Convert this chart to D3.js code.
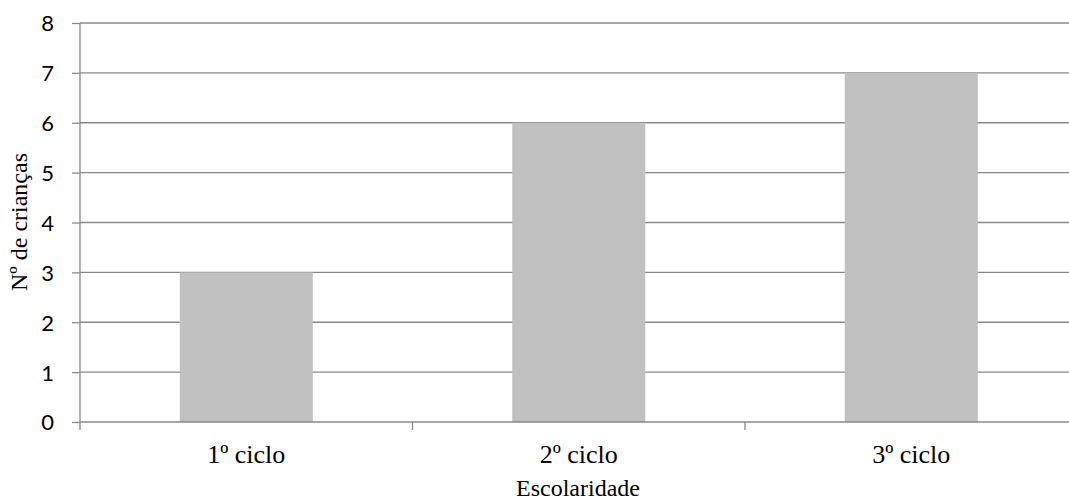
<!DOCTYPE html>
<html><head><meta charset="utf-8">
<script src="https://cdn.jsdelivr.net/npm/d3@7"></script>
<style>body{margin:0;background:#fff}svg{display:block}</style>
</head><body>
<svg id="c" width="1069" height="501"></svg>
<script>
const categories = ["1º ciclo", "2º ciclo", "3º ciclo"];
const values = [3, 6, 7];
const yTicks = [0, 1, 2, 3, 4, 5, 6, 7, 8];
const xTitle = "Escolaridade";
const yTitle = "Nº de crianças";

const svg = d3.select("#c");
const pLeft = 80, pRight = 1077.5, pTop = 23, pBottom = 422;
const x = d3.scaleBand().domain(categories).range([pLeft, pRight]).paddingInner(0.6).paddingOuter(0.3);
const xb = d3.scaleBand().domain(categories).range([pLeft, pRight]);
const y = d3.scaleLinear().domain([0, 8]).range([pBottom, pTop]);
const grid = "#888888";

// gridlines
svg.append("g").selectAll("line").data(yTicks.filter(d => d > 0)).join("line")
  .attr("x1", pLeft).attr("x2", pRight).attr("y1", d => y(d)).attr("y2", d => y(d))
  .attr("stroke", grid).attr("stroke-width", 1.3);

// bars
svg.append("g").selectAll("rect").data(values).join("rect")
  .attr("x", (d, i) => x(categories[i])).attr("width", x.bandwidth())
  .attr("y", d => y(d)).attr("height", d => y(0) - y(d))
  .attr("fill", "#c0c0c0");

// y axis
const ya = svg.append("g").attr("transform", `translate(${pLeft},0)`)
  .call(d3.axisLeft(y).tickValues(yTicks).tickFormat(d3.format("d")).tickSize(8).tickPadding(18));
ya.select(".domain").attr("stroke", grid).attr("stroke-width", 1.3).attr("d", `M0,${pTop}V${pBottom}`);
ya.selectAll(".tick line").attr("stroke", grid).attr("stroke-width", 1.3);
ya.selectAll(".tick text").attr("font-family", "Lato, 'Open Sans', sans-serif").attr("font-size", 22).attr("fill", "#000").attr("dy", "0.36em");

// x axis
const xa = svg.append("g").attr("transform", `translate(0,${pBottom})`)
  .call(d3.axisBottom(xb).tickSize(0));
xa.select(".domain").attr("stroke", grid).attr("stroke-width", 1.3).attr("d", `M${pLeft},0H${pRight}`);
xa.selectAll(".tick text").attr("font-family", "'Liberation Serif', 'Times New Roman', serif").attr("font-size", 26).attr("fill", "#000")
  .attr("y", 41).attr("dy", 0);
const bounds = [pLeft].concat(categories.map(c => xb(c) + xb.bandwidth()));
svg.append("g").selectAll("line").data(bounds).join("line")
  .attr("x1", d => d).attr("x2", d => d).attr("y1", pBottom).attr("y2", pBottom + 8)
  .attr("stroke", grid).attr("stroke-width", 1.3);

// titles
svg.append("text").attr("x", 578).attr("y", 496).attr("text-anchor", "middle")
  .attr("font-family", "'Liberation Serif', serif").attr("font-size", 24).text(xTitle);
svg.append("text").attr("transform", `translate(27,${222}) rotate(-90)`).attr("text-anchor", "middle")
  .attr("font-family", "'Liberation Serif', serif").attr("font-size", 24).text(yTitle);
</script>
</body></html>
